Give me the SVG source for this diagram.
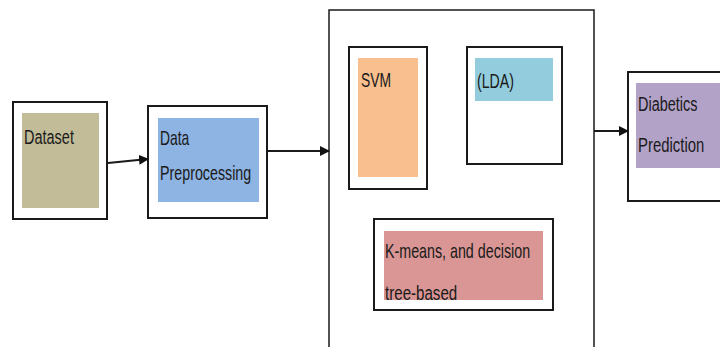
<svg xmlns="http://www.w3.org/2000/svg" width="720" height="347" viewBox="0 0 720 347">
<style>
.box{fill:#fff;stroke:#1a1a1a;stroke-width:2}
.t{font-family:"Liberation Sans",Arial,sans-serif;font-size:21px;fill:#1a1a1a}
.ln{stroke:#1a1a1a;stroke-width:2;fill:none}
</style>
<defs>
<marker id="ah" markerWidth="10" markerHeight="10" refX="9" refY="5" orient="auto" markerUnits="userSpaceOnUse">
<path d="M0,0 L10,5 L0,10 Z" fill="#111"/>
</marker>
</defs>
<rect width="720" height="347" fill="#fff"/>
<g id="classifiers">
<rect x="329" y="10" width="265" height="345" fill="#fff" stroke="#1a1a1a" stroke-width="1.5"/>
</g>
<g id="dataset">
<rect class="box" x="13" y="102" width="94" height="117"/>
<rect x="22" y="113" width="77" height="95" fill="#c2bc98"/>
<text class="t" transform="translate(24,144) scale(0.69,1)">Dataset</text>
</g>
<g id="preprocessing">
<rect class="box" x="148" y="106" width="119" height="112"/>
<rect x="158" y="118" width="101" height="84" fill="#8eb4e3"/>
<text class="t" transform="translate(160,145) scale(0.66,1)" fill="#1c2a4a">Data</text>
<text class="t" transform="translate(160,180) scale(0.68,1)" fill="#1c2a4a">Preprocessing</text>
</g>
<g id="svm">
<rect class="box" x="349" y="47" width="78" height="142"/>
<rect x="358" y="58" width="60" height="119" fill="#f9bf8f"/>
<text class="t" transform="translate(361,87) scale(0.66,1)" fill="#4a1e1e">SVM</text>
</g>
<g id="lda">
<rect class="box" x="467" y="47" width="95" height="117"/>
<rect x="475" y="58" width="78" height="43" fill="#93cddd"/>
<text class="t" transform="translate(477,88) scale(0.675,1)" fill="#1c2a3a">(LDA)</text>
</g>
<g id="kmeans">
<rect class="box" x="374" y="219" width="179" height="91"/>
<rect x="384" y="231" width="159" height="69" fill="#d99694"/>
<text class="t" transform="translate(385,258) scale(0.68,1)" fill="#2a1212">K-means, and decision</text>
<text class="t" transform="translate(385,300) scale(0.72,1)" fill="#2a1212">tree-based</text>
</g>
<g id="prediction">
<rect class="box" x="628" y="72" width="100" height="129"/>
<rect x="636" y="83" width="84" height="85" fill="#b3a2c7"/>
<text class="t" transform="translate(638,111) scale(0.69,1)" fill="#2a2540">Diabetics</text>
<text class="t" transform="translate(638,152) scale(0.71,1)" fill="#2a2540">Prediction</text>
</g>
<g id="connectors">
<line class="ln" x1="108" y1="163" x2="148" y2="159" marker-end="url(#ah)"/>
<line class="ln" x1="267" y1="151" x2="329" y2="151" marker-end="url(#ah)"/>
<line class="ln" x1="594" y1="131" x2="628" y2="131" marker-end="url(#ah)"/>
</g>
</svg>
